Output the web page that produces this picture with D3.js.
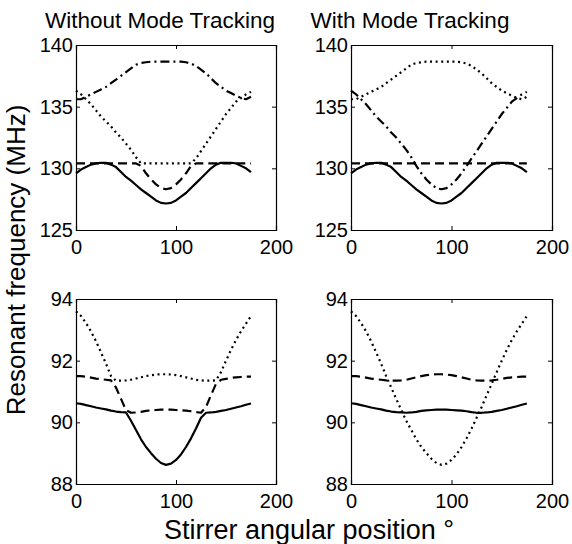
<!DOCTYPE html>
<html lang="en">
<head>
    <meta charset="UTF-8">
    <title>Resonant frequency vs stirrer position</title>
    <script src="https://d3js.org/d3.v7.js"></script>
    <style>
        body { margin: 0; background: #fff; }
        text { font-family: "Liberation Sans", Arial, sans-serif; fill: #000; }
    </style>
</head>

<body>
    <svg></svg>
</body>

<script>

    // stirrer angle, degrees
    const angle = d3.range(0, 180, 5);

    // ---- upper mode group (125..140 MHz) ----
    // with mode tracking
    const topSolid = [129.6, 129.9, 130.1, 130.3, 130.4, 130.45, 130.45, 130.3, 130.1, 129.7, 129.3, 129.0,
        128.65, 128.3, 128.0, 127.7, 127.4, 127.2, 127.15, 127.2, 127.4, 127.7, 128.0, 128.4,
        128.8, 129.2, 129.6, 130.0, 130.3, 130.45, 130.45, 130.45, 130.4, 130.2, 130.0, 129.7];
    const topDashed = [130.4, 130.4, 130.4, 130.4, 130.4, 130.4, 130.4, 130.4, 130.4, 130.4, 130.4, 130.4,
        130.4, 130.4, 130.4, 130.4, 130.4, 130.4, 130.4, 130.4, 130.4, 130.4, 130.4, 130.4,
        130.4, 130.4, 130.4, 130.4, 130.4, 130.4, 130.4, 130.4, 130.4, 130.4, 130.4, 130.4];
    const topDotted = [135.6, 135.6, 135.8, 136.0, 136.2, 136.4, 136.6, 136.9, 137.2, 137.5, 137.8, 138.1,
        138.4, 138.55, 138.6, 138.65, 138.65, 138.65, 138.65, 138.65, 138.65, 138.65, 138.6, 138.5,
        138.3, 138.0, 137.7, 137.3, 136.9, 136.6, 136.3, 136.1, 135.9, 135.7, 135.6, 135.8];
    const topDashDot = [136.3, 136.0, 135.6, 135.2, 134.7, 134.2, 133.8, 133.4, 132.9, 132.5, 132.0, 131.5,
        130.9, 130.2, 129.6, 129.1, 128.7, 128.4, 128.3, 128.4, 128.7, 129.1, 129.6, 130.2,
        130.8, 131.4, 132.0, 132.6, 133.2, 133.8, 134.4, 134.9, 135.4, 135.7, 136.0, 136.2];

    // without mode tracking
    const topSolidRaw = topSolid;
    const topDashedRaw = [130.4, 130.4, 130.4, 130.4, 130.4, 130.4, 130.4, 130.4, 130.4, 130.4, 130.4, 130.4,
        130.4, 130.2, 129.6, 129.1, 128.7, 128.4, 128.3, 128.4, 128.7, 129.1, 129.6, 130.2,
        130.4, 130.4, 130.4, 130.4, 130.4, 130.4, 130.4, 130.4, 130.4, 130.4, 130.4, 130.4];
    const topDottedRaw = [136.3, 136.0, 135.6, 135.2, 134.7, 134.2, 133.8, 133.4, 132.9, 132.5, 132.0, 131.5,
        130.9, 130.4, 130.4, 130.4, 130.4, 130.4, 130.4, 130.4, 130.4, 130.4, 130.4, 130.4,
        130.8, 131.4, 132.0, 132.6, 133.2, 133.8, 134.4, 134.9, 135.4, 135.7, 136.0, 136.2];
    const topDashDotRaw = topDotted;

    // ---- lower mode group (88..94 MHz) ----
    // with mode tracking
    const botSolid = [90.62, 90.6, 90.56, 90.52, 90.48, 90.45, 90.42, 90.38, 90.35, 90.33, 90.32, 90.31,
        90.32, 90.34, 90.37, 90.39, 90.4, 90.41, 90.41, 90.41, 90.4, 90.39, 90.38, 90.36,
        90.33, 90.31, 90.31, 90.32, 90.34, 90.37, 90.4, 90.44, 90.48, 90.52, 90.57, 90.61];
    const botDashed = [91.5, 91.5, 91.48, 91.45, 91.42, 91.4, 91.38, 91.36, 91.35, 91.35, 91.36, 91.38,
        91.42, 91.46, 91.5, 91.53, 91.55, 91.56, 91.56, 91.55, 91.53, 91.5, 91.46, 91.42,
        91.38, 91.36, 91.35, 91.35, 91.36, 91.38, 91.41, 91.44, 91.46, 91.47, 91.48, 91.48];
    const botDotted = [93.6, 93.45, 93.22, 92.95, 92.63, 92.27, 91.9, 91.5, 91.13, 90.76, 90.4, 90.05,
        89.75, 89.45, 89.2, 89.0, 88.82, 88.68, 88.62, 88.66, 88.78, 88.96, 89.2, 89.48,
        89.8, 90.15, 90.5, 90.88, 91.25, 91.63, 92.0, 92.35, 92.67, 92.95, 93.2, 93.45];

    // without mode tracking
    const botSolidRaw = [90.62, 90.6, 90.56, 90.52, 90.48, 90.45, 90.42, 90.38, 90.35, 90.33, 90.32, 90.05,
        89.75, 89.45, 89.2, 89.0, 88.82, 88.68, 88.62, 88.66, 88.78, 88.96, 89.2, 89.48,
        89.8, 90.15, 90.31, 90.32, 90.34, 90.37, 90.4, 90.44, 90.48, 90.52, 90.57, 90.61];
    const botDashedRaw = [91.5, 91.5, 91.48, 91.45, 91.42, 91.4, 91.38, 91.36, 91.13, 90.76, 90.4, 90.31,
        90.32, 90.34, 90.37, 90.39, 90.4, 90.41, 90.41, 90.41, 90.4, 90.39, 90.38, 90.36,
        90.33, 90.31, 90.5, 90.88, 91.25, 91.38, 91.41, 91.44, 91.46, 91.47, 91.48, 91.48];
    const botDottedRaw = [93.6, 93.45, 93.22, 92.95, 92.63, 92.27, 91.9, 91.5, 91.35, 91.35, 91.36, 91.38,
        91.42, 91.46, 91.5, 91.53, 91.55, 91.56, 91.56, 91.55, 91.53, 91.5, 91.46, 91.42,
        91.38, 91.36, 91.35, 91.35, 91.36, 91.63, 92.0, 92.35, 92.67, 92.95, 93.2, 93.45];

    const xTicks = [0, 100, 200];
    const topTicks = [125, 130, 135, 140];
    const botTicks = [88, 90, 92, 94];
    const titles = ["Without Mode Tracking", "With Mode Tracking"];

    const dashes = {
        solid: null,
        dashed: "9,5",
        dotted: "2,3.6",
        dashdot: "9,4,2,4"
    };

    const width = 572;
    const height = 544;
    const svg = d3.select("svg")
        .attr("width", width)
        .attr("height", height);

    // panel boxes in pixels
    const cols = [[76, 276], [351, 552]];
    const rows = [[45, 230], [299, 484]];

    function panel(col, row, yDomain, yTicks, series) {
        const [x0, x1] = cols[col];
        const [y0, y1] = rows[row];
        const x = d3.scaleLinear().domain([0, 200]).range([x0, x1]);
        const y = d3.scaleLinear().domain(yDomain).range([y1, y0]);
        const g = svg.append("g");

        const line = vals => d3.line()
            .x((d, i) => x(angle[i]))
            .y(d => y(d))(vals);

        series.forEach(s => {
            g.append("path")
                .attr("d", line(s.values))
                .attr("fill", "none")
                .attr("stroke", "#000")
                .attr("stroke-width", 2.2)
                .attr("stroke-linejoin", "round")
                .attr("stroke-dasharray", dashes[s.style]);
        });

        // axes, matlab style: ticks inside, box on
        g.append("g")
            .attr("transform", `translate(0,${y1})`)
            .call(d3.axisBottom(x).tickValues(xTicks).tickSize(-4).tickPadding(9).tickFormat(d3.format("d")))
            .call(a => a.selectAll("text").attr("font-size", 20).attr("dy", "0.75em"));
        g.append("g")
            .attr("transform", `translate(0,${y0})`)
            .call(d3.axisTop(x).tickValues(xTicks).tickSize(-4).tickFormat(""));
        g.append("g")
            .attr("transform", `translate(${x0},0)`)
            .call(d3.axisLeft(y).tickValues(yTicks).tickSize(-4).tickPadding(3).tickFormat(d3.format("d")))
            .call(a => a.selectAll("text").attr("font-size", 20));
        g.append("g")
            .attr("transform", `translate(${x1},0)`)
            .call(d3.axisRight(y).tickValues(yTicks).tickSize(-4).tickFormat(""));

        g.selectAll(".domain").attr("stroke", "#000").attr("stroke-width", 1.2);
        g.selectAll(".tick line").attr("stroke", "#000");
        g.selectAll("text").attr("font-family", null).attr("fill", "#000");
    }

    panel(0, 0, [125, 140], topTicks, [
        { values: topSolidRaw, style: "solid" },
        { values: topDashedRaw, style: "dashed" },
        { values: topDottedRaw, style: "dotted" },
        { values: topDashDotRaw, style: "dashdot" }
    ]);
    panel(1, 0, [125, 140], topTicks, [
        { values: topSolid, style: "solid" },
        { values: topDashed, style: "dashed" },
        { values: topDotted, style: "dotted" },
        { values: topDashDot, style: "dashdot" }
    ]);
    panel(0, 1, [88, 94], botTicks, [
        { values: botSolidRaw, style: "solid" },
        { values: botDashedRaw, style: "dashed" },
        { values: botDottedRaw, style: "dotted" }
    ]);
    panel(1, 1, [88, 94], botTicks, [
        { values: botSolid, style: "solid" },
        { values: botDashed, style: "dashed" },
        { values: botDotted, style: "dotted" }
    ]);

    // titles and axis labels
    svg.append("text")
        .attr("x", 160).attr("y", 28)
        .attr("text-anchor", "middle")
        .attr("font-size", 22.5)
        .text(titles[0]);
    svg.append("text")
        .attr("x", 410).attr("y", 28)
        .attr("text-anchor", "middle")
        .attr("font-size", 22.5)
        .text(titles[1]);

    svg.append("text")
        .attr("transform", "translate(25,260) rotate(-90)")
        .attr("text-anchor", "middle")
        .attr("font-size", 26)
        .text("Resonant frequency (MHz)");

    svg.append("text")
        .attr("x", 309).attr("y", 539)
        .attr("text-anchor", "middle")
        .attr("font-size", 27)
        .text("Stirrer angular position °");

</script>

</html>
